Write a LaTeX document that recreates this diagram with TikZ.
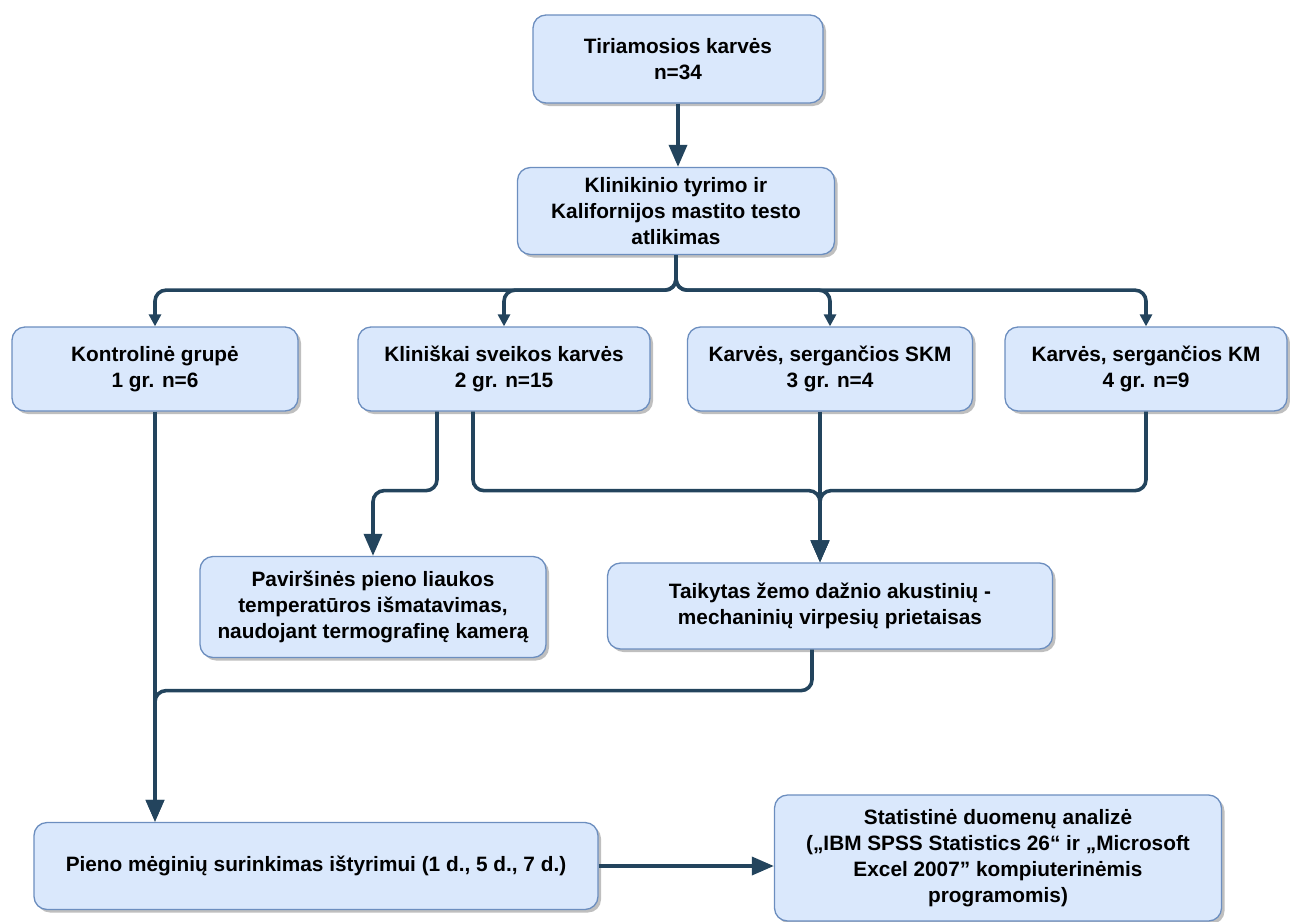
\documentclass[tikz,border=0pt]{standalone}
\usepackage{fontspec}
\setmainfont{Liberation Sans}
\usepackage{tikz}
\usetikzlibrary{arrows.meta,shadows}
\definecolor{boxfill}{HTML}{DAE8FC}
\definecolor{boxline}{HTML}{6C8EBF}
\definecolor{flowcol}{HTML}{23445D}
\begin{document}
\begin{tikzpicture}[
    x=1pt, y=-1pt,
    box/.style={rectangle, draw=boxline, fill=boxfill, line width=1.3pt,
        rounded corners=13pt, align=center, inner sep=0pt,
        font=\fontsize{20.8}{25.8}\selectfont\bfseries,
        drop shadow={shadow xshift=3pt, shadow yshift=-3pt, opacity=.25, fill=black}},
    flow/.style={draw=flowcol, line width=3.6pt, rounded corners=11pt,
        -{Triangle[length=22pt,width=18pt]}},
    thinflow/.style={flow, -{Triangle[length=12pt,width=12pt]}}
]
\useasboundingbox (0,0) rectangle (1290,921);

\node[box, minimum width=290, minimum height=88] (cows) at (678,59) {Tiriamosios karvės\\n=34};
\node[box, minimum width=317, minimum height=87] (exam) at (676,211) {Klinikinio tyrimo ir\\Kalifornijos mastito testo\\atlikimas};

\node[box, minimum width=286, minimum height=84] (g1) at (155,369) {Kontrolinė grupė\\1 gr. n=6};
\node[box, minimum width=292, minimum height=84] (g2) at (504,369) {Kliniškai sveikos karvės\\2 gr. n=15};
\node[box, minimum width=285, minimum height=84] (g3) at (830,369) {Karvės, sergančios SKM\\3 gr. n=4};
\node[box, minimum width=282, minimum height=84] (g4) at (1146,369) {Karvės, sergančios KM\\4 gr. n=9};

\node[box, minimum width=346, minimum height=101] (thermo) at (373,607) {Paviršinės pieno liaukos\\temperatūros išmatavimas,\\naudojant termografinę kamerą};
\node[box, minimum width=445, minimum height=86] (device) at (830,606) {Taikytas žemo dažnio akustinių -\\mechaninių virpesių prietaisas};

\node[box, minimum width=564, minimum height=87] (milk) at (316,866) {Pieno mėginių surinkimas ištyrimui (1 d., 5 d., 7 d.)};
\node[box, minimum width=447, minimum height=126] (stats) at (998,858) {Statistinė duomenų analizė\\(„IBM SPSS Statistics 26“ ir „Microsoft\\Excel 2007” kompiuterinėmis\\programomis)};

\draw[flow] (cows.south) -- (cows.south |- exam.north);

\draw[thinflow] (exam.south) -- ++(0,35) -| (g1.north);
\draw[thinflow] (exam.south) -- ++(0,35) -| (g2.north);
\draw[thinflow] (exam.south) -- ++(0,35) -| (g3.north);
\draw[thinflow] (exam.south) -- ++(0,35) -| (g4.north);

\draw[flow] (g1.south) -- (g1.south |- milk.north);

\draw[flow] ([xshift=-67pt]g2.south) -- ++(0,79) -| (thermo.north);
\draw[flow] ([xshift=-31pt]g2.south) -- ++(0,79) -| ([xshift=-10pt]device.north);
\draw[flow] ([xshift=-10pt]g3.south) -- ([xshift=-10pt]device.north);
\draw[flow] (g4.south) -- ++(0,79) -| ([xshift=-10pt]device.north);

\draw[flow] ([xshift=-18pt]device.south) -- ++(0,41) -| (g1.south |- milk.north);

\draw[flow] (milk.east) -- (stats.west |- milk.east);

\end{tikzpicture}
\end{document}
